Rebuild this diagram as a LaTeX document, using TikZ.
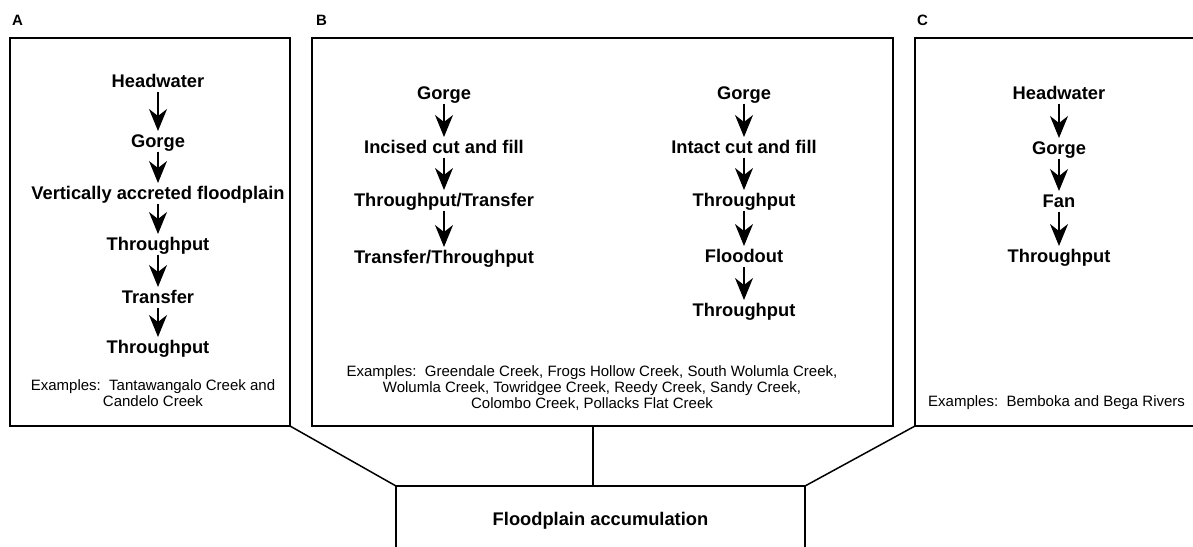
\documentclass[tikz,border=0pt]{standalone}
\usepackage{fontspec}
\setmainfont{Liberation Sans}
\usetikzlibrary{arrows.meta}
\begin{document}
\begin{tikzpicture}[x=1pt,y=-1pt,
  panel/.style={draw, line width=1.8pt, inner sep=0pt, outer sep=0pt},
  link/.style={line width=1.5pt},
  lbl/.style={font=\fontsize{18.3}{20}\selectfont\bfseries, inner sep=0pt, outer sep=0pt, text height=13pt, text depth=4.5pt, anchor=base},
  plab/.style={font=\fontsize{15}{17}\selectfont\bfseries, inner sep=0pt, anchor=base west},
  ex/.style={font=\fontsize{15}{16.3}\selectfont, inner sep=0pt, align=center, text depth=0pt, anchor=south},
  flow/.style={line width=1.2pt, -{Stealth[length=22pt,width=18pt,inset=7pt]}, shorten >=3pt}
]
\useasboundingbox (0,0) rectangle (1193,546);
\clip (0,0) rectangle (1193,546);

% panel boxes
\node[panel, minimum width=280pt, minimum height=388pt] (pA) at (150,232) {};
\node[panel, minimum width=581pt, minimum height=388pt] (pB) at (602.5,232) {};
\node[panel, minimum width=320pt, minimum height=388pt] (pC) at (1075,232) {};
\node[panel, minimum width=409pt, minimum height=100pt] (acc) at (600.5,536) {};
\node[lbl] (accT) at (600.5,525) {Floodplain accumulation};

% panel letters
\node[plab] (labA) at (12,25) {A};
\node[plab] (labB) at (316,25) {B};
\node[plab] (labC) at (917,25) {C};

% connectors to the accumulation box
\coordinate (bB) at (593,426);
\draw[link] (pA.south east) -- (acc.north west);
\draw[link] (bB) -- (bB |- acc.north);
\draw[link] (pC.south west) -- (acc.north east);

% panel A
\node[lbl] (a1) at (158,87) {Headwater};
\node[lbl] (a2) at (158,147) {Gorge};
\node[lbl] (a3) at (158,199) {Vertically accreted floodplain};
\node[lbl] (a4) at (158,250) {Throughput};
\node[lbl] (a5) at (158,303) {Transfer};
\node[lbl] (a6) at (158,353) {Throughput};
\foreach \u/\v in {a1/a2,a2/a3,a3/a4,a4/a5,a5/a6}
  \draw[flow] (\u.south) -- (\v.north);
\node[ex] (exA) at (153,407) {Examples:\ \ Tantawangalo Creek and\\Candelo Creek};

% panel B, left column
\node[lbl] (b1) at (444,99) {Gorge};
\node[lbl] (b2) at (444,153) {Incised cut and fill};
\node[lbl] (b3) at (444,206) {Throughput/Transfer};
\node[lbl] (b4) at (444,263) {Transfer/Throughput};
\foreach \u/\v in {b1/b2,b2/b3,b3/b4}
  \draw[flow] (\u.south) -- (\v.north);

% panel B, right column
\node[lbl] (c1) at (744,99) {Gorge};
\node[lbl] (c2) at (744,153) {Intact cut and fill};
\node[lbl] (c3) at (744,206) {Throughput};
\node[lbl] (c4) at (744,262) {Floodout};
\node[lbl] (c5) at (744,316) {Throughput};
\foreach \u/\v in {c1/c2,c2/c3,c3/c4,c4/c5}
  \draw[flow] (\u.south) -- (\v.north);
\node[ex] (exB) at (592,409) {Examples:\ \ Greendale Creek, Frogs Hollow Creek, South Wolumla Creek,\\Wolumla Creek, Towridgee Creek, Reedy Creek, Sandy Creek,\\Colombo Creek, Pollacks Flat Creek};

% panel C
\node[lbl] (d1) at (1059,99) {Headwater};
\node[lbl] (d2) at (1059,154) {Gorge};
\node[lbl] (d3) at (1059,207) {Fan};
\node[lbl] (d4) at (1059,262) {Throughput};
\foreach \u/\v in {d1/d2,d2/d3,d3/d4}
  \draw[flow] (\u.south) -- (\v.north);
\node[ex, anchor=south west, align=left] (exC) at (928,407) {Examples:\ \ Bemboka and Bega Rivers};
\end{tikzpicture}
\end{document}
